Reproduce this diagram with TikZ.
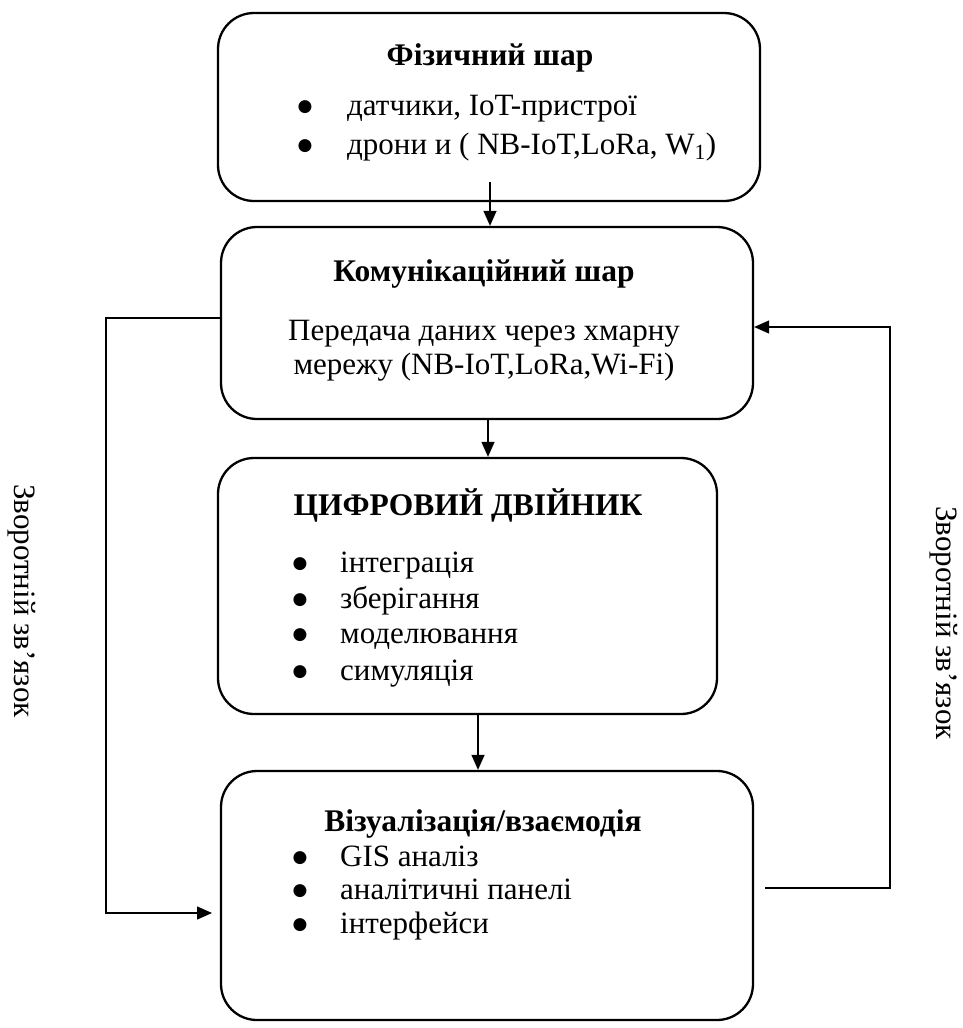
\documentclass[tikz,border=0pt]{standalone}
\usepackage{fontspec}
\setmainfont{Liberation Serif}
\newfontfamily\bulletfont{DejaVu Sans}
\usetikzlibrary{arrows.meta}
\begin{document}
\begin{tikzpicture}[x=1pt,y=-1pt,
  layerbox/.style={draw, line width=2.3pt, rounded corners=36pt, inner sep=0pt},
  ttl/.style={font=\fontsize{31.5}{36}\selectfont\bfseries, inner sep=0pt},
  bigttl/.style={font=\fontsize{31.5}{36}\selectfont\bfseries, inner sep=0pt},
  body/.style={font=\fontsize{31}{36}\selectfont, inner sep=0pt, anchor=base},
  item/.style={font=\fontsize{31}{36}\selectfont, inner sep=0pt, anchor=base west},
  bul/.style={font=\bulletfont\fontsize{17}{17}\selectfont, inner sep=0pt, anchor=base},
  arr/.style={line width=1.3pt, -{Triangle[length=15pt,width=13pt]}},
  side/.style={font=\fontsize{31}{36}\selectfont, inner sep=0pt, rotate=-90}
]
\useasboundingbox (0,0) rectangle (962,1028);

% boxes
\node[layerbox, minimum width=542pt, minimum height=188pt] (b1) at (489,107) {};
\node[layerbox, minimum width=532pt, minimum height=192pt] (b2) at (487,323) {};
\node[layerbox, minimum width=499pt, minimum height=256pt] (b3) at (467.5,586) {};
\node[layerbox, minimum width=532pt, minimum height=249pt] (b4) at (487,895.5) {};

% box 1
\node[ttl] (t1) at (490,58) {Фізичний шар};
\node[bul] (b1d1) at (305,111) {●};
\node[item] (b1i1) at (347,115) {датчики, IoT-пристрої};
\node[bul] (b1d2) at (305,150) {●};
\node[item] (b1i2) at (347,154) {дрони и ( NB-IoT,LoRa, W\textsubscript{1})};

% box 2
\node[ttl] (t2) at (484,274) {Комунікаційний шар};
\node[body] (b2l1) at (484,340) {Передача даних через хмарну};
\node[body] (b2l2) at (484,374) {мережу (NB-IoT,LoRa,Wi-Fi)};

% box 3
\node[bigttl] (t3) at (468,505) {ЦИФРОВИЙ ДВІЙНИК};
\node[bul] (b3d1) at (300,568) {●};
\node[item] (b3i1) at (340,572) {інтеграція};
\node[bul] (b3d2) at (300,604) {●};
\node[item] (b3i2) at (340,608) {зберігання};
\node[bul] (b3d3) at (300,639) {●};
\node[item] (b3i3) at (340,643) {моделювання};
\node[bul] (b3d4) at (300,676) {●};
\node[item] (b3i4) at (340,680) {симуляція};

% box 4
\node[ttl] (t4) at (483,824) {Візуалізація/взаємодія};
\node[bul] (b4d1) at (300,862) {●};
\node[item] (b4i1) at (340,866) {GIS аналіз};
\node[bul] (b4d2) at (300,895) {●};
\node[item] (b4i2) at (340,899) {аналітичні панелі};
\node[bul] (b4d3) at (300,929) {●};
\node[item] (b4i3) at (340,933) {інтерфейси};

% side labels
\node[side] (sl) at (22,601) {Зворотній зв’язок};
\node[side] (sr) at (944,623) {Зворотній зв’язок};

% vertical arrows
\coordinate (a1) at (490,182);
\draw[arr] (a1) -- (a1 |- b2.north);
\coordinate (a2) at (488,419);
\draw[arr] (a2) -- (a2 |- b3.north);
\coordinate (a3) at (478,714);
\draw[arr] (a3) -- (a3 |- b4.north);

% feedback left
\coordinate (l0) at (221,318);
\coordinate (l1) at (106,318);
\coordinate (l2) at (106,913);
\coordinate (l3) at (212,913);
\draw[arr] (l0) -- (l1) -- (l2) -- (l3);

% feedback right
\coordinate (r0) at (765,888);
\coordinate (r1) at (890,888);
\coordinate (r2) at (890,327);
\draw[arr] (r0) -- (r1) -- (r2) -- (r2 -| b2.east);
\end{tikzpicture}
\end{document}
